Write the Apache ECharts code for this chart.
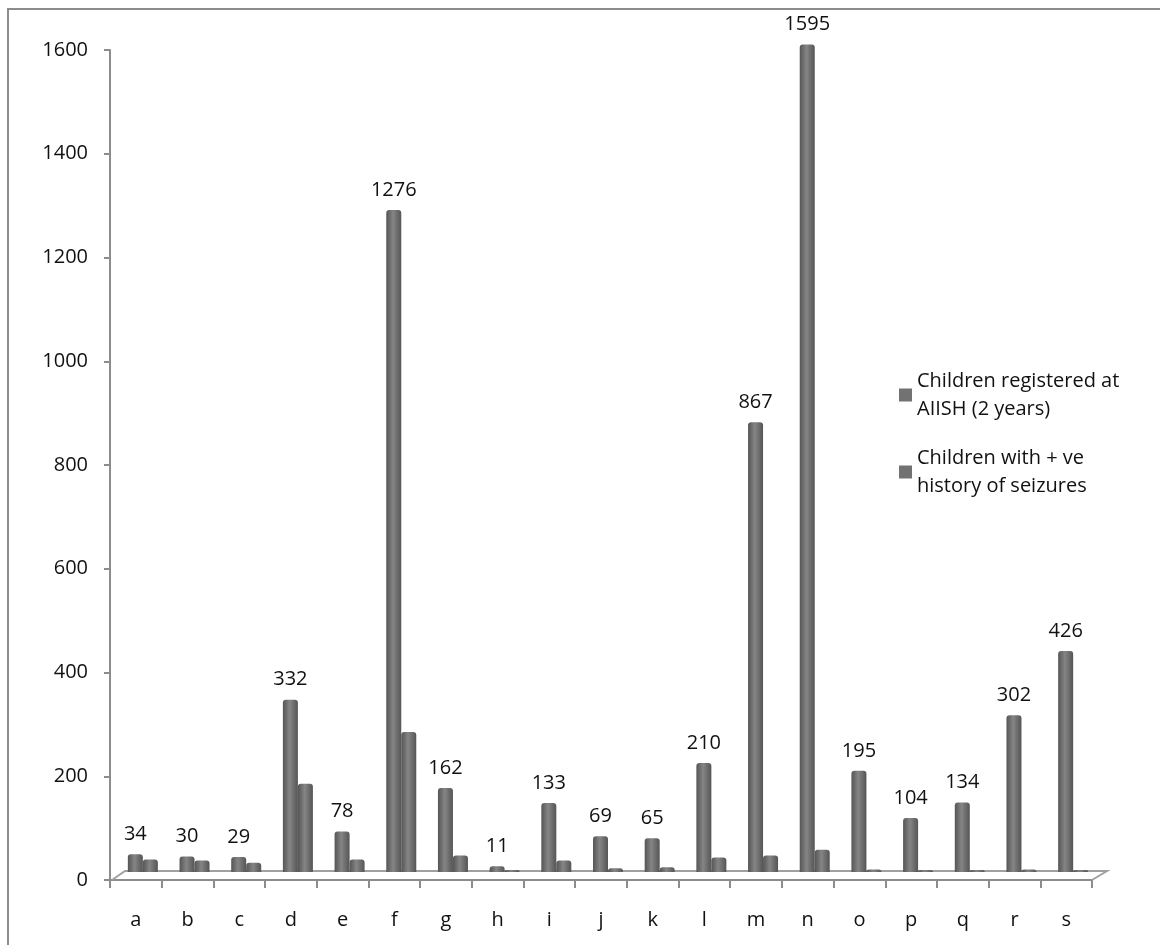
<!DOCTYPE html>
<html>
<head>
<meta charset="utf-8">
<script src="https://cdn.jsdelivr.net/npm/echarts@6/dist/echarts.min.js"></script>
<style>
html,body{margin:0;padding:0;background:#fff;}
#main{width:1160px;height:945px;}
</style>
</head>
<body>
<div id="main"></div>
<script>
var categories = ['a','b','c','d','e','f','g','h','i','j','k','l','m','n','o','p','q','r','s'];
var registered = [34,30,29,332,78,1276,162,11,133,69,65,210,867,1595,195,104,134,302,426];
var seizures = [24,22,18,170,24,270,32,4,22,7,9,28,32,43,5,4,4,5,4];
var yTicks = [0,200,400,600,800,1000,1200,1400,1600];
var seriesNames = ['Children registered at\nAIISH (2 years)', 'Children with + ve\nhistory of seizures'];

var FONT = '"Open Sans", sans-serif';
var FS = 20;
var gridLeft = 110, gridTop = 50, gridWidth = 982, gridBottomY = 880;
var depthX = 7, depthY = 8; // pseudo-3D floor offset

var barColor = new echarts.graphic.LinearGradient(0,0,1,0,[
  {offset:0,color:'#555555'},
  {offset:0.45,color:'#858585'},
  {offset:1,color:'#555555'}
]);

var yMin = yTicks[0], yMax = yTicks[yTicks.length-1];

var chart = echarts.init(document.getElementById('main'), null, {renderer:'canvas'});
chart.setOption({
  animation:false,
  backgroundColor:'#ffffff',
  grid:[
    {left:gridLeft, top:gridTop, width:gridWidth, height:gridBottomY-gridTop},
    {left:gridLeft+depthX, top:gridTop-depthY, width:gridWidth, height:gridBottomY-gridTop}
  ],
  legend:{
    orient:'vertical',
    left:894, top:362,
    itemWidth:13, itemHeight:13,
    itemGap:21,
    itemTextGap:6,
    icon:'rect',
    data:seriesNames,
    itemStyle:{color:'#727272'},
    textStyle:{fontFamily:FONT, fontSize:FS, color:'#111', lineHeight:28}
  },
  xAxis:[
    {
      type:'category', gridIndex:0,
      data:categories,
      axisLine:{lineStyle:{color:'#8c8c8c', width:2}},
      axisTick:{show:true, length:8, lineStyle:{color:'#8c8c8c', width:2}},
      axisLabel:{fontFamily:FONT, fontSize:FS, color:'#111', margin:30}
    },
    {
      type:'category', gridIndex:1, data:categories,
      axisLine:{show:false}, axisTick:{show:false}, axisLabel:{show:false}
    }
  ],
  yAxis:[
    {
      type:'value', gridIndex:0,
      min:yMin, max:yMax, interval:200,
      splitLine:{show:false},
      axisLine:{show:true, lineStyle:{color:'#8c8c8c', width:2}},
      axisTick:{show:true, length:6, lineStyle:{color:'#8c8c8c', width:2}},
      axisLabel:{fontFamily:FONT, fontSize:FS, color:'#111', margin:22, formatter:function(v){return String(v);}}
    },
    {
      type:'value', gridIndex:1, min:yMin, max:yMax, interval:200,
      splitLine:{show:false}, axisLine:{show:false}, axisTick:{show:false}, axisLabel:{show:false}
    }
  ],
  series:[
    {
      name:seriesNames[0], type:'bar', data:registered,
      xAxisIndex:1, yAxisIndex:1,
      barWidth:15, barGap:'0%',
      itemStyle:{color:barColor, borderRadius:[3,3,0,0]},
      label:{show:true, position:'top', distance:10, fontFamily:FONT, fontSize:FS, color:'#111'},
      z:3
    },
    {
      name:seriesNames[1], type:'bar', data:seizures,
      xAxisIndex:1, yAxisIndex:1,
      barWidth:15, barGap:'0%',
      itemStyle:{color:barColor, borderRadius:[3,3,0,0]},
      z:3
    }
  ],
  graphic:[
    {type:'rect', shape:{x:8, y:9, width:1200, height:1000}, style:{fill:null, stroke:'#8c8c8c', lineWidth:2}, silent:true, z:0},
    {type:'polyline', shape:{points:[[gridLeft+2,gridBottomY],[gridLeft+15,gridBottomY-depthY-1],[gridLeft+gridWidth+15,gridBottomY-depthY-1],[gridLeft+gridWidth,gridBottomY]]},
     style:{fill:null, stroke:'#a0a0a0', lineWidth:2}, silent:true, z:1}
  ]
});
</script>
</body>
</html>
